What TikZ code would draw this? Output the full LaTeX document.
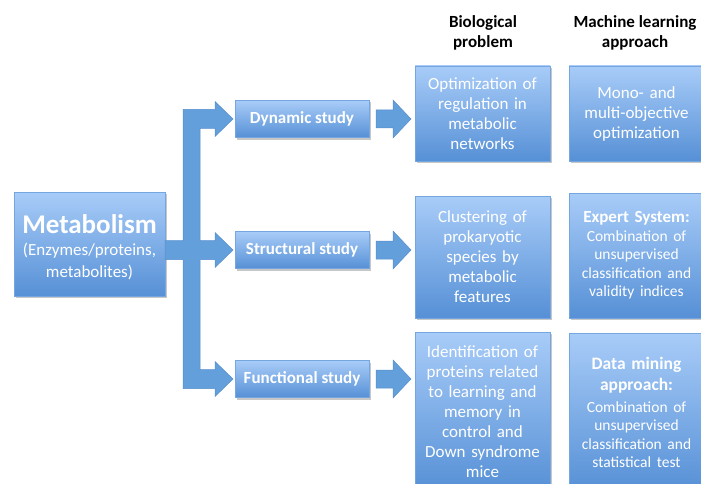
\documentclass[tikz,border=0pt]{standalone}
\usepackage{fontspec}
\setmainfont{Carlito}
\usetikzlibrary{calc,shadows}

\definecolor{boxtop}{RGB}{168,204,248}
\definecolor{boxbot}{RGB}{86,144,214}
\definecolor{boxedge}{RGB}{118,166,224}
\definecolor{flowfill}{RGB}{99,159,219}
\definecolor{flowedge}{RGB}{86,142,206}

% block arrow from the east side of #1 to the west side of #2
\newcommand\blockarrow[2]{%
  \draw[flow] ($(#1.east)+(7,-9)$) -- ($(#2.west |- #1.east)+(-22,-9)$)
    -- ($(#2.west |- #1.east)+(-22,-19)$) -- ($(#2.west |- #1.east)+(-4,0)$)
    -- ($(#2.west |- #1.east)+(-22,19)$) -- ($(#2.west |- #1.east)+(-22,9)$)
    -- ($(#1.east)+(7,9)$) -- cycle;}

\begin{document}
\begin{tikzpicture}[x=1pt,y=-1pt,
  panel/.style={draw=boxedge, line width=0.6pt, top color=boxtop, bottom color=boxbot,
    text=white, align=center, inner sep=0pt, outer sep=0pt,
    drop shadow={shadow xshift=1.5pt, shadow yshift=-2pt, opacity=0.22, fill=black}},
  study/.style={panel, minimum width=134pt, minimum height=37pt,
    font=\fontsize{17}{20}\selectfont\bfseries},
  bio/.style={panel, text width=132pt, minimum width=135pt,
    font=\fontsize{17}{20}\selectfont},
  header/.style={align=center, text=black, font=\fontsize{17}{20}\selectfont\bfseries},
  flow/.style={fill=flowfill, draw=flowedge, line width=0.5pt, line join=miter},
]
\useasboundingbox (0,0) rectangle (701,484);
\clip (0,0) rectangle (701,484);

% column headers
\node[header] (hbio) at (483,33) {Biological\\problem};
\node[header] (hml) at (635,33) {Machine learning\\approach};

% source box and its text, set a little below the centre
\node[panel, minimum width=151pt, minimum height=104pt] (met) at (89.5,244) {};
\node[text=white, align=center, text width=148pt, inner sep=0pt] (mettext)
  at ($(met.center)+(0,3.5)$)
  {{\fontsize{27}{30}\selectfont\bfseries Metabolism\par}%
   {\fontsize{17}{22}\selectfont (Enzymes/proteins,\\metabolites)\par}};

% kinds of study
\node[study] (dy) at (302,119) {Dynamic study};
\node[study] (st) at (302,250) {Structural study};
\node[study] (fu) at (302,379) {Functional study};

% biological problems
\node[bio, minimum height=95pt] (b1) at (482.5,113.5)
  {Optimization of\\regulation in\\metabolic\\networks};
\node[bio, minimum height=122pt] (b2) at (482.5,257)
  {Clustering of\\prokaryotic\\species by\\metabolic\\features};
\node[bio, minimum height=160pt] (b3) at (482.5,412)
  {Identification of\\proteins related\\to learning and\\memory in\\control and\\Down syndrome\\mice};

% machine learning approaches
\node[bio, minimum height=95pt] (m1) at (636.5,113.5)
  {Mono- and\\multi-objective\\optimization};
\node[bio, minimum height=125pt] (m2) at (636.5,255.5)
  {{\fontsize{17}{18.5}\selectfont\bfseries Expert System:\par}%
   {\fontsize{15.5}{18.5}\selectfont Combination of\\unsupervised\\classification and\\validity indices\par}};
\node[bio, minimum height=159pt] (m3) at (636.5,412.5)
  {{\fontsize{17.5}{21.7}\selectfont\bfseries Data mining\\approach:\par}%
   {\fontsize{15.5}{18.5}\selectfont\vspace{3pt}Combination of\\unsupervised\\classification and\\statistical test\par}};

% branching arrow from the source to the three studies
\coordinate (bar) at (191.5,0);
\coordinate (m0) at (met.east |- st.west);
\draw[flow] ($(m0)+(0,-9.5)$) -- ($(bar |- st.west)+(-8.5,-9.5)$)
  -- ($(bar |- dy.west)+(-8.5,-9.5)$) -- ($(dy.west)+(-20,-9.5)$)
  -- ($(dy.west)+(-20,-17.5)$) -- ($(dy.west)+(-2,0)$) -- ($(dy.west)+(-20,17.5)$)
  -- ($(dy.west)+(-20,9.5)$) -- ($(bar |- dy.west)+(8.5,9.5)$)
  -- ($(bar |- st.west)+(8.5,-9.5)$) -- ($(st.west)+(-20,-9.5)$)
  -- ($(st.west)+(-20,-17.5)$) -- ($(st.west)+(-2,0)$) -- ($(st.west)+(-20,17.5)$)
  -- ($(st.west)+(-20,9.5)$) -- ($(bar |- st.west)+(8.5,9.5)$)
  -- ($(bar |- fu.west)+(8.5,-9.5)$) -- ($(fu.west)+(-20,-9.5)$)
  -- ($(fu.west)+(-20,-17.5)$) -- ($(fu.west)+(-2,0)$) -- ($(fu.west)+(-20,17.5)$)
  -- ($(fu.west)+(-20,9.5)$) -- ($(bar |- fu.west)+(-8.5,9.5)$)
  -- ($(bar |- st.west)+(-8.5,9.5)$) -- ($(m0)+(0,9.5)$) -- cycle;

% arrows from the studies to the biological problems
\blockarrow{dy}{b1}
\blockarrow{st}{b2}
\blockarrow{fu}{b3}
\end{tikzpicture}
\end{document}
